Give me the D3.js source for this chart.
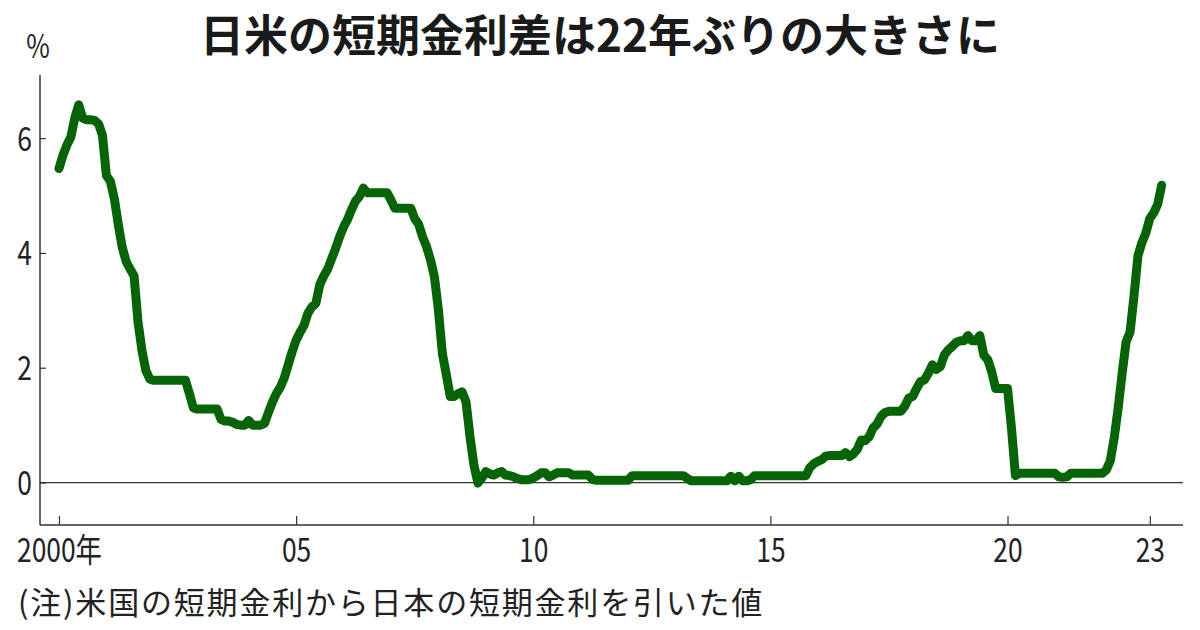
<!DOCTYPE html>
<html><head><meta charset="utf-8">
<script src="https://cdn.jsdelivr.net/npm/d3@7"></script>
<style>
html,body{margin:0;padding:0;background:#fff;}
svg{display:block;}
</style></head>
<body>
<svg id="chart" width="1200" height="630"></svg>
<script>
// ---- data ----
const titleText = "日米の短期金利差は22年ぶりの大きさに";
const unitLabel = "%";
const noteText = "(注)米国の短期金利から日本の短期金利を引いた値";
const startYear = 2000; // series is monthly, starting January 2000
const spread = [
  // 2000
  5.47,5.70,5.88,6.02,6.35,6.58,6.35,6.32,6.32,6.31,6.25,6.05,
  // 2001
  5.35,5.25,4.95,4.50,4.10,3.85,3.72,3.60,2.80,2.30,1.95,1.80,
  // 2002
  1.78,1.78,1.78,1.78,1.78,1.78,1.78,1.78,1.78,1.55,1.30,1.28,
  // 2003
  1.28,1.28,1.28,1.28,1.28,1.10,1.07,1.07,1.05,1.01,1.00,1.00,
  // 2004
  1.08,1.00,1.00,1.00,1.03,1.22,1.40,1.55,1.66,1.82,2.05,2.28,
  // 2005
  2.48,2.62,2.74,2.95,3.06,3.12,3.45,3.60,3.72,3.90,4.08,4.28,
  // 2006
  4.45,4.58,4.75,4.90,4.98,5.13,5.05,5.05,5.05,5.05,5.05,5.05,
  // 2007
  4.92,4.78,4.78,4.78,4.78,4.78,4.60,4.50,4.28,4.11,3.88,3.58,
  // 2008
  3.01,2.25,1.88,1.50,1.50,1.55,1.58,1.40,0.80,0.30,-0.01,0.08,
  // 2009
  0.19,0.15,0.13,0.17,0.19,0.13,0.12,0.10,0.07,0.05,0.05,0.05,
  // 2010
  0.08,0.12,0.17,0.17,0.10,0.13,0.17,0.17,0.17,0.17,0.13,0.13,
  // 2011
  0.13,0.13,0.13,0.05,0.04,0.04,0.04,0.04,0.04,0.04,0.04,0.04,
  // 2012
  0.04,0.12,0.12,0.12,0.12,0.12,0.12,0.12,0.12,0.12,0.12,0.12,
  // 2013
  0.12,0.12,0.12,0.07,0.03,0.03,0.03,0.03,0.03,0.03,0.03,0.03,
  // 2014
  0.03,0.03,0.11,0.03,0.11,0.03,0.03,0.05,0.12,0.12,0.12,0.12,
  // 2015
  0.12,0.12,0.12,0.12,0.12,0.12,0.12,0.12,0.12,0.12,0.26,0.33,
  // 2016
  0.37,0.40,0.46,0.47,0.47,0.47,0.47,0.52,0.45,0.50,0.58,0.74,
  // 2017
  0.73,0.80,0.95,1.02,1.15,1.22,1.24,1.24,1.24,1.24,1.33,1.47,
  // 2018
  1.50,1.64,1.76,1.79,1.91,2.05,1.97,2.02,2.22,2.31,2.37,2.44,
  // 2019
  2.47,2.47,2.56,2.47,2.47,2.56,2.22,2.14,1.93,1.64,1.64,1.64,
  // 2020
  1.64,0.95,0.12,0.16,0.16,0.16,0.16,0.16,0.16,0.16,0.16,0.16,
  // 2021
  0.16,0.10,0.09,0.10,0.16,0.16,0.16,0.16,0.16,0.16,0.16,0.16,
  // 2022
  0.16,0.22,0.38,0.78,1.30,1.90,2.45,2.62,3.25,3.95,4.18,4.35,
  // 2023
  4.60,4.70,4.85,5.18
];
const xTickValues = [2000, 2005, 2010, 2015, 2020, 2023];
const xTickLabels = ["2000年", "05", "10", "15", "20", "23"];
const yTickValues = [0, 2, 4, 6];

// ---- layout ----
const plot = {left: 40, right: 1183, top: 75, bottom: 525};
const svg = d3.select("#chart");
const narrow = 0.8;
const numFont = "'Noto Sans CJK JP', 'Noto Sans', sans-serif";

const x = d3.scaleLinear().domain([1999.6, 2023.7]).range([plot.left, plot.right]);
const y = d3.scaleLinear().domain([-0.74, 7.1]).range([plot.bottom, plot.top]);

const points = spread.map((v, i) => ({t: startYear + i / 12, v}));

// title
svg.append("text")
  .attr("x", 600).attr("y", 52)
  .attr("text-anchor", "middle")
  .attr("font-family", "'Noto Sans CJK JP', sans-serif")
  .attr("font-weight", 700)
  .attr("font-size", 44)
  .attr("fill", "#1a1a1a")
  .text(titleText);

// unit
svg.append("text")
  .attr("transform", `translate(38,58) scale(${narrow},1)`)
  .attr("text-anchor", "middle")
  .attr("font-family", numFont)
  .attr("font-size", 32)
  .attr("fill", "#222")
  .text(unitLabel);

// zero line
svg.append("line")
  .attr("x1", plot.left).attr("x2", plot.right)
  .attr("y1", y(0)).attr("y2", y(0))
  .attr("stroke", "#333").attr("stroke-width", 1.2);

// y axis
const yAxis = d3.axisRight(y).tickValues(yTickValues).tickSize(6).tickFormat(d3.format("d"));
const gy = svg.append("g").attr("transform", `translate(${plot.left},0)`).call(yAxis);
gy.select(".domain").remove();
gy.selectAll(".tick line").attr("stroke", "#333").attr("stroke-width", 1.2);
gy.selectAll(".tick text")
  .attr("x", 0).attr("dy", 0).attr("y", 0)
  .attr("transform", `translate(-8,12) scale(${narrow},1)`)
  .attr("text-anchor", "end")
  .attr("font-family", numFont)
  .attr("font-size", 33)
  .attr("fill", "#222");
svg.append("line")
  .attr("x1", plot.left).attr("x2", plot.left)
  .attr("y1", plot.top).attr("y2", plot.bottom)
  .attr("stroke", "#333").attr("stroke-width", 1.5);

// x axis
const xAxis = d3.axisBottom(x).tickValues(xTickValues).tickSize(-9)
  .tickFormat((d, i) => xTickLabels[i]);
const gx = svg.append("g").attr("transform", `translate(0,${plot.bottom})`).call(xAxis);
gx.select(".domain").remove();
gx.selectAll(".tick line").attr("stroke", "#333").attr("stroke-width", 1.2);
gx.selectAll(".tick text")
  .attr("y", 0).attr("dy", 0)
  .attr("transform", `translate(0,37) scale(${narrow},1)`)
  .attr("font-family", numFont)
  .attr("font-size", 33)
  .attr("fill", "#222");
svg.append("line")
  .attr("x1", plot.left).attr("x2", plot.right)
  .attr("y1", plot.bottom).attr("y2", plot.bottom)
  .attr("stroke", "#333").attr("stroke-width", 1.5);

// series line
const line = d3.line().x(d => x(d.t)).y(d => y(d.v));
svg.append("path")
  .datum(points)
  .attr("d", line)
  .attr("fill", "none")
  .attr("stroke", "#066406")
  .attr("stroke-width", 9)
  .attr("stroke-linejoin", "round")
  .attr("stroke-linecap", "round");

// note
svg.append("text")
  .attr("x", 18).attr("y", 614)
  .attr("font-family", "'Noto Sans CJK JP', sans-serif")
  .attr("font-size", 31)
  .attr("letter-spacing", 1.8)
  .attr("fill", "#222")
  .text(noteText);
</script>
</body></html>
